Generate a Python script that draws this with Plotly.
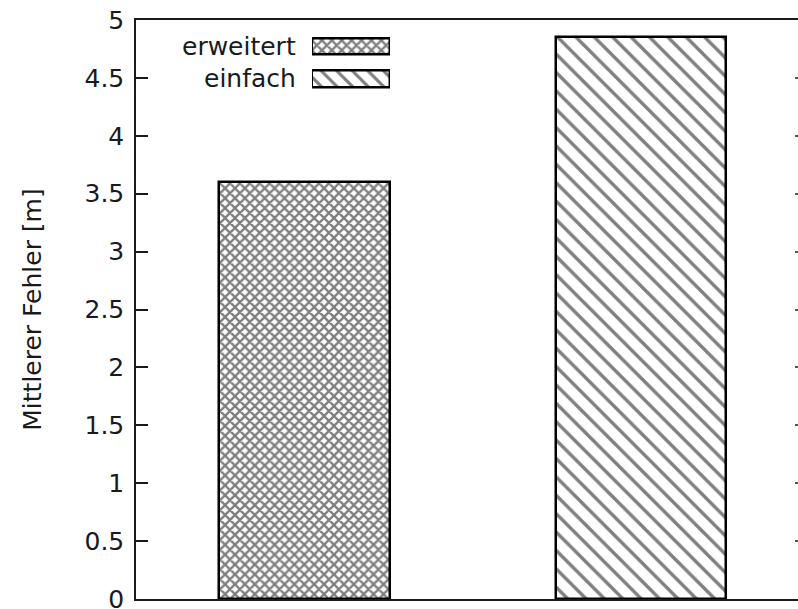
import plotly.graph_objects as go

# Mean localisation error per method
methods = ["erweitert", "einfach"]
errors = [3.6, 4.85]
patterns = ["x", "\\"]

y_ticks = [0, 0.5, 1, 1.5, 2, 2.5, 3, 3.5, 4, 4.5, 5]
y_tick_labels = ["0", "0.5", "1", "1.5", "2", "2.5", "3", "3.5", "4", "4.5", "5"]

FONT = "DejaVu Sans"
FS = 25
INK = "#1a1a1a"

fig = go.Figure()

# main bars
fig.add_trace(go.Bar(
    x=methods, y=errors, width=0.505,
    marker=dict(
        color="white",
        line=dict(color="black", width=2.5),
        pattern=dict(shape=patterns, size=[7, 13], solidity=[0.55, 0.26],
                     fgcolor="black", bgcolor="white", fillmode="overlay"),
    ),
    showlegend=False, hoverinfo="skip",
))

# carrier for the mirrored tick marks on the right
fig.add_trace(go.Scatter(
    x=methods, y=errors, yaxis="y2", mode="markers",
    marker=dict(opacity=0), showlegend=False, hoverinfo="skip",
))

# key swatches drawn on their own small axes in the upper left
fig.add_trace(go.Bar(
    x=[1, 1], y=methods, orientation="h", width=0.53,
    xaxis="x3", yaxis="y3",
    marker=dict(
        color="white",
        line=dict(color="black", width=2.5),
        pattern=dict(shape=patterns, size=[7, 11], solidity=[0.55, 0.28],
                     fgcolor="black", bgcolor="white", fillmode="overlay"),
    ),
    showlegend=False, hoverinfo="skip",
))

for name in methods:
    fig.add_annotation(
        text=name, xref="x3 domain", yref="y3", x=0, y=name,
        xanchor="right", yanchor="middle", xshift=-14, yshift=0,
        showarrow=False, font=dict(family=FONT, size=FS, color=INK),
    )

fig.update_layout(
    width=798, height=609,
    margin=dict(l=136, r=0, t=20, b=10, autoexpand=False),
    paper_bgcolor="white", plot_bgcolor="white",
    font=dict(family=FONT, size=FS, color=INK),
    bargap=0,
    xaxis=dict(
        type="category", range=[-0.5, 1.465],
        showticklabels=False, ticks="",
        showline=True, linecolor=INK, linewidth=1.5, mirror=True,
        showgrid=False, zeroline=False, fixedrange=True,
    ),
    yaxis=dict(
        range=[0, 5], tickvals=y_ticks, ticktext=y_tick_labels,
        ticks="inside", ticklen=12, tickwidth=1.5, tickcolor=INK,
        ticklabelstandoff=5, ticklabeloverflow="allow",
        showline=True, linecolor=INK, linewidth=1.5,
        showgrid=False, zeroline=False,
        title=dict(text="Mittlerer Fehler [m]", standoff=36,
                   font=dict(family=FONT, size=FS, color=INK)),
    ),
    yaxis2=dict(
        overlaying="y", side="right", anchor="x", range=[0, 5],
        tickmode="array", tickvals=y_ticks,
        ticks="inside", ticklen=3, tickwidth=1.5, tickcolor="#555",
        showticklabels=False, showline=False, showgrid=False, zeroline=False,
    ),
    xaxis3=dict(
        domain=[0.2659, 0.3837], range=[0, 1], anchor="y3",
        visible=False, fixedrange=True,
    ),
    yaxis3=dict(
        domain=[0.8713, 0.9819], range=[1.5, -0.5], anchor="x3",
        type="category", categoryorder="array", categoryarray=methods,
        visible=False, fixedrange=True,
    ),
)

fig.write_html("out.html")
